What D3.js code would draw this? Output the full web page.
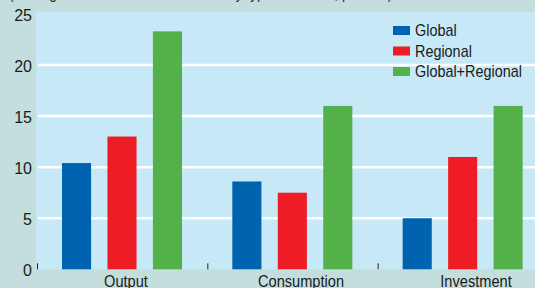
<!DOCTYPE html>
<html>
<head>
<meta charset="utf-8">
<script src="https://cdn.jsdelivr.net/npm/d3@7"></script>
<style>
  body { margin: 0; background: #c4dedd; }
  svg { display: block; }
  .axis { font-family: "Liberation Sans", Arial, sans-serif; fill: #1a1a1a; }
</style>
</head>
<body>
<div id="chart"></div>
<script>
const categories = ["Output", "Consumption", "Investment"]
const series = ["Global", "Regional", "Global+Regional"]
const globalVals = [10.4, 8.6, 5.0]
const regionalVals = [13.0, 7.5, 11.0]
const combinedVals = [23.3, 16.0, 16.0]
const yTicks = [0, 5, 10, 15, 20, 25]
const subtitle = "(Average of the absolute deviations by type of shocks, percent)"

const COLORS = ["#0063b0", "#ee1c25", "#54b048"]
const PLOT_BG = "#c7e9f7"
const NARROW = 0.86

var W = 535, H = 288

var svg = d3.select("#chart").append("svg")
    .attr("width", W)
    .attr("height", H)

var y = d3.scaleLinear().domain([0, 25]).range([269.3, 14])

var xGroup = d3.scaleBand().domain(categories).range([37, 548])
var xInner = d3.scaleBand().domain(series).range([25, 145]).paddingInner(0.36)
var xLabel = d3.scalePoint().domain(categories).range([126, 476])

// subtitle, mostly cropped off at the top
svg.append("text")
    .attr("class", "axis")
    .attr("transform", "translate(9,-1) scale(" + NARROW + ",1)")
    .style("font-size", "16px")
    .style("fill", "#333")
    .text(subtitle)

// plot background
svg.append("rect")
    .attr("x", 36)
    .attr("y", 12)
    .attr("width", W - 36)
    .attr("height", y(0) - 12)
    .style("fill", PLOT_BG)

// gridlines
svg.selectAll(".grid")
    .data(yTicks.filter(t => t > 0 && t < 25))
    .enter().append("line")
    .attr("class", "grid")
    .attr("x1", 38)
    .attr("x2", W)
    .attr("y1", d => y(d))
    .attr("y2", d => y(d))
    .style("stroke", "#fff")
    .style("stroke-width", 2.5)

// y tick labels
svg.selectAll(".ylab")
    .data(yTicks)
    .enter().append("text")
    .attr("class", "ylab axis")
    .attr("x", 32)
    .attr("y", d => y(d) + 7)
    .style("text-anchor", "end")
    .style("font-size", "16px")
    .text(d => d)

var rows = categories.map((c, i) => ({
    cat: c,
    vals: [globalVals[i], regionalVals[i], combinedVals[i]]
}))

var groups = svg.selectAll(".group")
    .data(rows)
    .enter().append("g")
    .attr("class", "group")
    .attr("transform", d => "translate(" + xGroup(d.cat) + ",0)")

groups.selectAll("rect")
    .data(d => d.vals.map((v, i) => ({ s: series[i], v: v, i: i })))
    .enter().append("rect")
    .attr("x", d => xInner(d.s))
    .attr("y", d => y(d.v))
    .attr("width", xInner.bandwidth())
    .attr("height", d => y(0) - y(d.v))
    .style("fill", d => COLORS[d.i])

// small ticks at group boundaries
svg.selectAll(".xtick")
    .data(categories)
    .enter().append("line")
    .attr("class", "xtick")
    .attr("x1", d => xGroup(d) + 0.5)
    .attr("x2", d => xGroup(d) + 0.5)
    .attr("y1", y(0) - 6)
    .attr("y2", y(0))
    .style("stroke", "#222")
    .style("stroke-width", 1)

// category labels (condensed look)
svg.selectAll(".xlab")
    .data(categories)
    .enter().append("text")
    .attr("class", "xlab axis")
    .attr("transform", d => "translate(" + xLabel(d) + ",287) scale(" + NARROW + ",1)")
    .style("text-anchor", "middle")
    .style("font-size", "17px")
    .text(d => d)

// legend
var legend = svg.selectAll(".legend")
    .data(series)
    .enter().append("g")
    .attr("class", "legend")
    .attr("transform", (d, i) => "translate(393," + (26 + i * 20.5) + ")")

legend.append("rect")
    .attr("width", 17)
    .attr("height", 9)
    .style("fill", (d, i) => COLORS[i])

legend.append("text")
    .attr("class", "axis")
    .attr("transform", "translate(22,10) scale(0.9,1)")
    .style("font-size", "16px")
    .text(d => d)
</script>
</body>
</html>
